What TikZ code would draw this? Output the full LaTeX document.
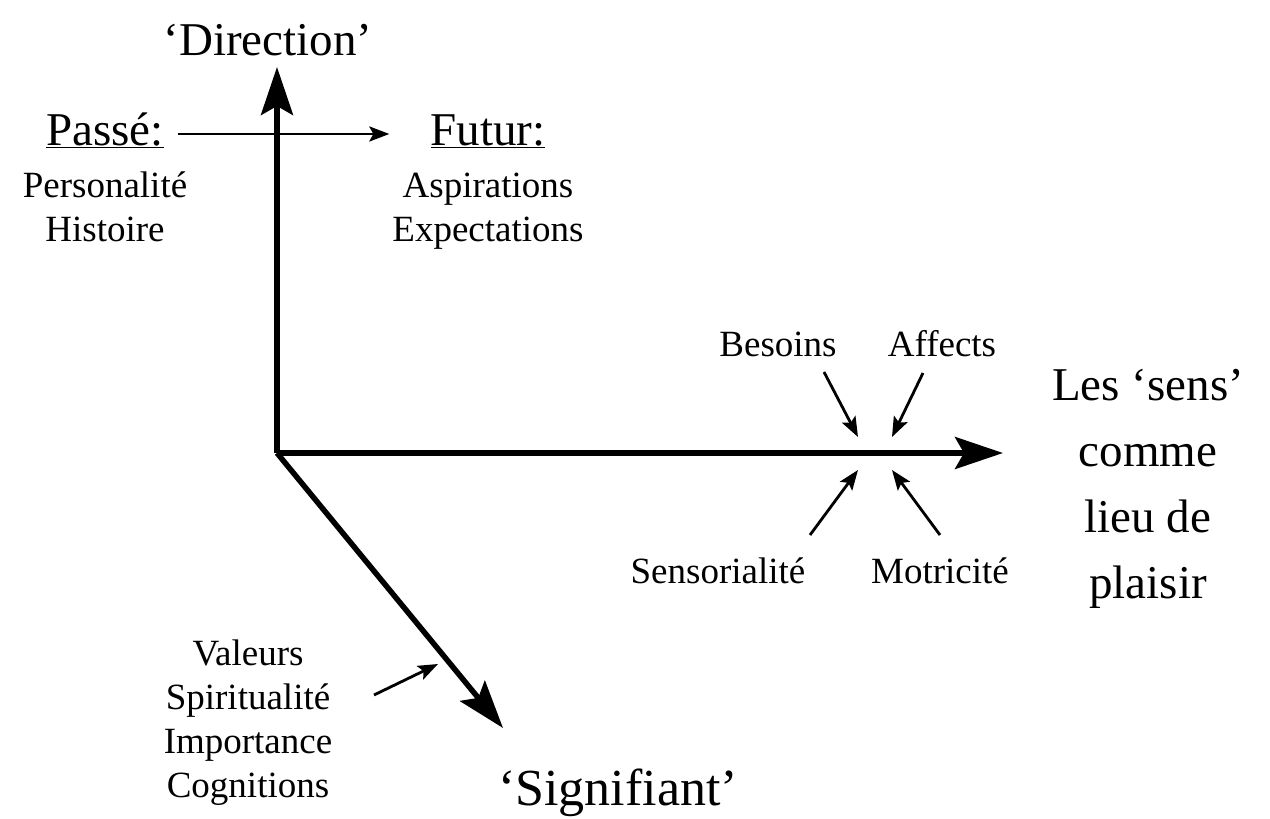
\documentclass[tikz,border=0pt]{standalone}
\usepackage{fontspec}
\setmainfont{Liberation Serif}
\usetikzlibrary{arrows.meta}

\tikzset{
  axe/.style={line width=5.5pt, -{Stealth[length=48pt,width=32pt,inset=9pt]}},
  fleche/.style={line width=2.8pt, -{Stealth[length=20pt,width=15pt,inset=4pt]}},
  petit/.style={font=\fontsize{37}{44}\selectfont, align=center, inner sep=0pt, anchor=base},
  grand/.style={font=\fontsize{47}{66}\selectfont, align=center, inner sep=0pt, anchor=base},
}

\begin{document}
\begin{tikzpicture}[x=1pt, y=-1pt]
\useasboundingbox (0,0) rectangle (1270,819);

% Axes
\coordinate (o) at (277,453);
\coordinate (haut) at (277,67);
\coordinate (droite) at (1003,453);
\coordinate (bas) at (503,728);
\draw[axe] (o) -- (haut);
\draw[axe] (o) -- (droite);
\draw[axe] (o) -- (bas);

% Titres des axes
\node[grand] (direction) at (268,55) {‘Direction’};
\node[grand] (sens) at (1148,598) {Les ‘sens’\\comme\\lieu de\\plaisir};
\node[grand, font=\fontsize{52}{64}\selectfont] (signifiant) at (618,805) {‘Signifiant’};

% Passe et futur
\node[grand] (passe) at (105,145) {\underline{Passé:}};
\node[grand] (futur) at (488,145) {\underline{Futur:}};
\node[petit] (histoire) at (105,241) {Personalité\\Histoire};
\node[petit] (aspirations) at (488,241) {Aspirations\\Expectations};
\coordinate (p) at ([xshift=14pt, yshift=-4pt]passe.east);
\coordinate (f) at (p -| futur.west);
\draw[fleche] (p) -- ([xshift=-41pt]f);

% Autour du plaisir
\node[petit] (besoins) at (778,356) {Besoins};
\node[petit] (affects) at (942,356) {Affects};
\node[petit] (sensorialite) at (718,583) {Sensorialité};
\node[petit] (motricite) at (940,583) {Motricité};
\coordinate (b1) at (824,372);
\coordinate (b2) at (858,437);
\coordinate (a1) at (923,373);
\coordinate (a2) at (892,437);
\coordinate (s1) at (810,535);
\coordinate (s2) at (858,470);
\coordinate (m1) at (940,535);
\coordinate (m2) at (892,470);
\draw[fleche] (b1) -- (b2);
\draw[fleche] (a1) -- (a2);
\draw[fleche] (s1) -- (s2);
\draw[fleche] (m1) -- (m2);

% Valeurs
\node[petit] (valeurs) at (248,797) {Valeurs\\Spiritualité\\Importance\\Cognitions};
\coordinate (v1) at (374,695);
\coordinate (v2) at (438,664);
\draw[fleche] (v1) -- (v2);
\end{tikzpicture}
\end{document}
